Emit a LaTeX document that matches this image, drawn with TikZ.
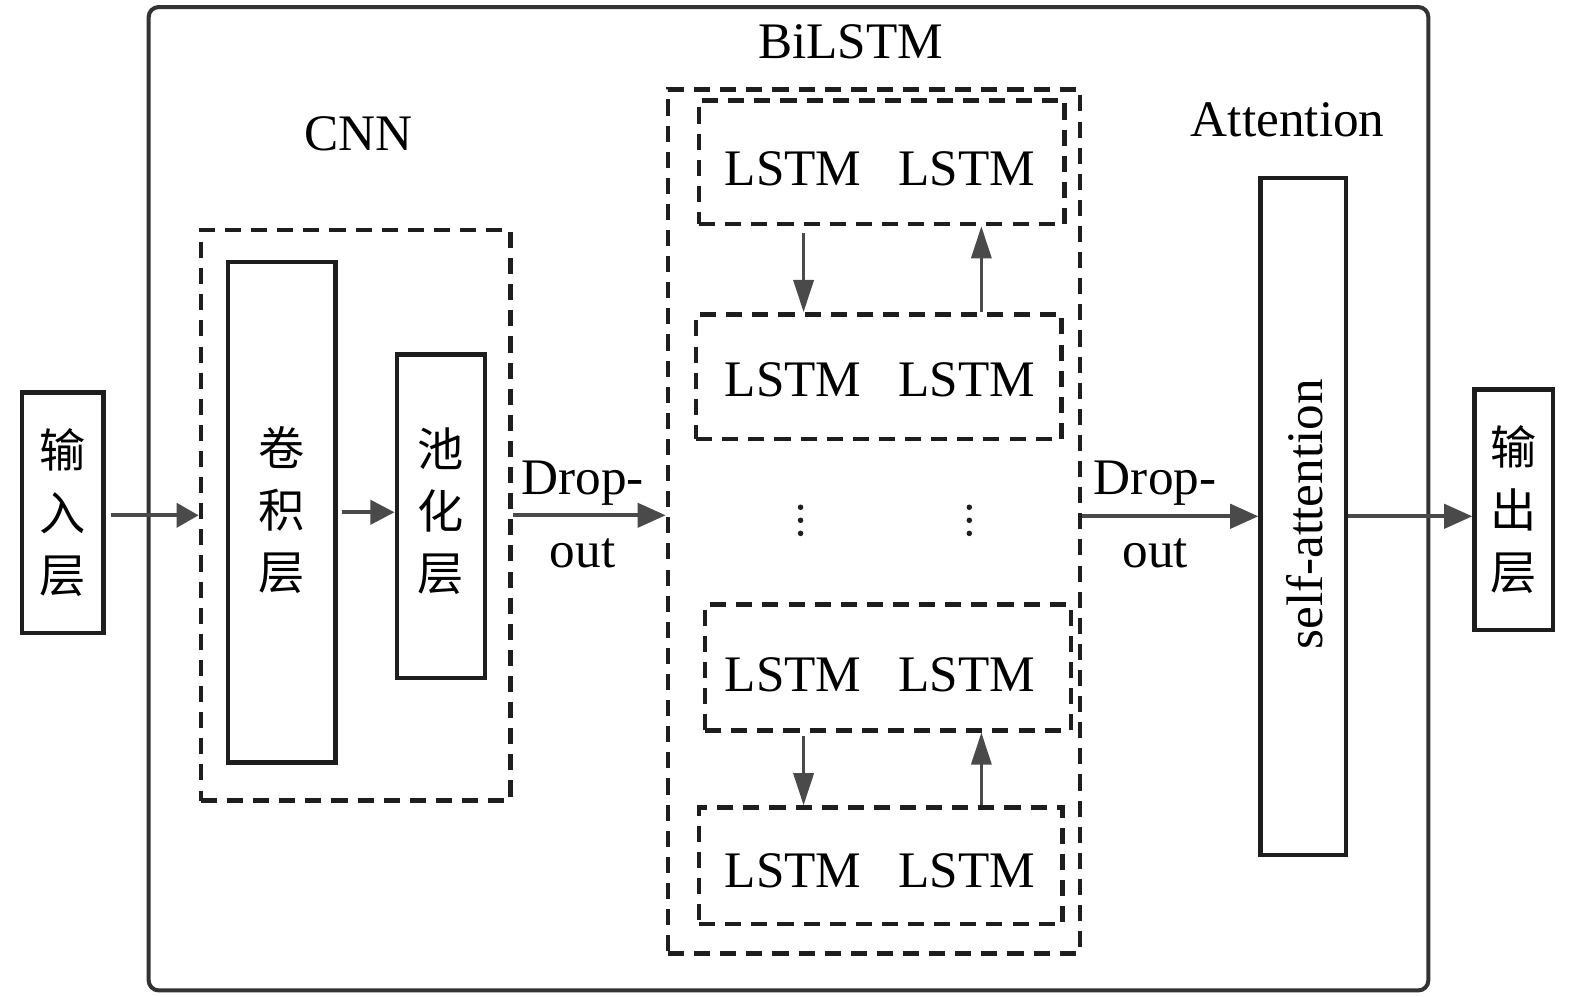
\documentclass[tikz,border=0pt]{standalone}
\usepackage{fontspec}
\setmainfont{Liberation Serif}
\newfontfamily\cjkfont{Noto Sans CJK SC}
\usetikzlibrary{arrows.meta}
\definecolor{ink}{HTML}{1E1E1E}
\definecolor{framegray}{HTML}{333333}
\definecolor{arrowgray}{HTML}{4A4A4A}
\tikzset{
  solidbox/.style={draw=ink,line width=4.5pt,inner sep=0pt},
  dashbox/.style={draw=ink,line width=4.5pt,dash pattern=on 16pt off 10pt,inner sep=0pt},
  frame/.style={draw=framegray,line width=4pt,rounded corners=10pt,inner sep=0pt},
  arr/.style={draw=arrowgray,line width=4pt,-{Triangle[length=28pt,width=24pt]}},
  varr/.style={draw=arrowgray,line width=3.2pt,-{Triangle[length=32pt,width=20pt]}},
  lbl/.style={font=\fontsize{51}{60}\selectfont,inner sep=0pt,anchor=base},
  cjklbl/.style={font=\cjkfont\fontsize{46}{62}\selectfont,align=center,inner sep=0pt},
  dotmark/.style={circle,fill=ink,inner sep=0pt,minimum size=5.5pt},
}
\begin{document}
\begin{tikzpicture}[x=1pt,y=-1pt]
\useasboundingbox (0,0) rectangle (1568,992);
% outer frame
\node[frame,minimum width=1274pt,minimum height=979pt] (frame) at (785,496.5) {};
% input / output
\node[solidbox,minimum width=81pt,minimum height=239pt] (inp) at (62.5,510.5) {};
\node[cjklbl] (inptxt) at (inp.center) {输\\入\\层};
\node[solidbox,minimum width=78pt,minimum height=239pt] (outp) at (1507,507.5) {};
\node[cjklbl] (outptxt) at (outp.center) {输\\出\\层};
% CNN
\node[lbl] (cnnlbl) at (357,150) {CNN};
\node[dashbox,minimum width=308pt,minimum height=568pt] (cnnbox) at (354,513) {};
\node[solidbox,minimum width=107pt,minimum height=498pt] (conv) at (280.5,510) {};
\node[cjklbl] (convtxt) at (280.5,508) {卷\\积\\层};
\node[solidbox,minimum width=88pt,minimum height=322pt] (pool) at (439,514) {};
\node[cjklbl] (pooltxt) at (439,509) {池\\化\\层};
% BiLSTM
\node[lbl] (bilbl) at (847,58) {BiLSTM};
\node[dashbox,minimum width=410pt,minimum height=860pt] (bibox) at (870,519) {};
\node[dashbox,minimum width=364pt,minimum height=123pt] (l1) at (878,161.5) {};
\node[dashbox,minimum width=364pt,minimum height=124pt] (l2) at (875,375) {};
\node[dashbox,minimum width=364pt,minimum height=125pt] (l3) at (884,664.5) {};
\node[dashbox,minimum width=362pt,minimum height=116pt] (l4) at (877,862) {};
\node[lbl] (t1) at (876,185) {LSTM\hspace{37pt}LSTM};
\node[lbl] (t2) at (876,395) {LSTM\hspace{37pt}LSTM};
\node[lbl] (t3) at (876,688) {LSTM\hspace{37pt}LSTM};
\node[lbl] (t4) at (876,884) {LSTM\hspace{37pt}LSTM};
\node[dotmark] (d1a) at (797,505) {};
\node[dotmark] (d1b) at (797,518) {};
\node[dotmark] (d1c) at (797,531) {};
\node[dotmark] (d2a) at (965,505) {};
\node[dotmark] (d2b) at (965,518) {};
\node[dotmark] (d2c) at (965,531) {};
\coordinate (dx) at (800,0);
\coordinate (ux) at (977,0);
% Attention
\node[lbl] (attlbl) at (1282,136) {Attention};
\node[solidbox,minimum width=85pt,minimum height=674pt] (att) at (1297.5,514) {};
\node[font=\fontsize{51}{60}\selectfont,rotate=90,inner sep=0pt] (atttxt) at (1299,512) {self-attention};
% dropout labels
\node[lbl] (dr1) at (580,492) {Drop-};
\node[lbl] (o1) at (580,565) {out};
\node[lbl] (dr2) at (1150,492) {Drop-};
\node[lbl] (o2) at (1150,565) {out};
% connectors
\draw[draw=arrowgray,line width=4pt,-{Triangle[length=22pt,width=24pt]},shorten <=5pt] (inp.east |- cnnbox.west) -- (cnnbox.west);
\draw[draw=arrowgray,line width=4pt,-{Triangle[length=24pt,width=24pt]},shorten <=4pt] (conv.east) -- (conv.east -| pool.west);
\draw[arr] (cnnbox.east) -- (cnnbox.east -| bibox.west);
\draw[arr] (bibox.east |- att.west) -- (att.west);
\draw[arr] (att.east) -- (att.east -| outp.west);
\draw[varr,shorten <=7pt] (l1.south -| dx) -- (l2.north -| dx);
\draw[varr] (l2.north -| ux) -- (l1.south -| ux);
\draw[varr,shorten <=3pt] (l3.south -| dx) -- (l4.north -| dx);
\draw[varr] (l4.north -| ux) -- (l3.south -| ux);
\end{tikzpicture}
\end{document}
